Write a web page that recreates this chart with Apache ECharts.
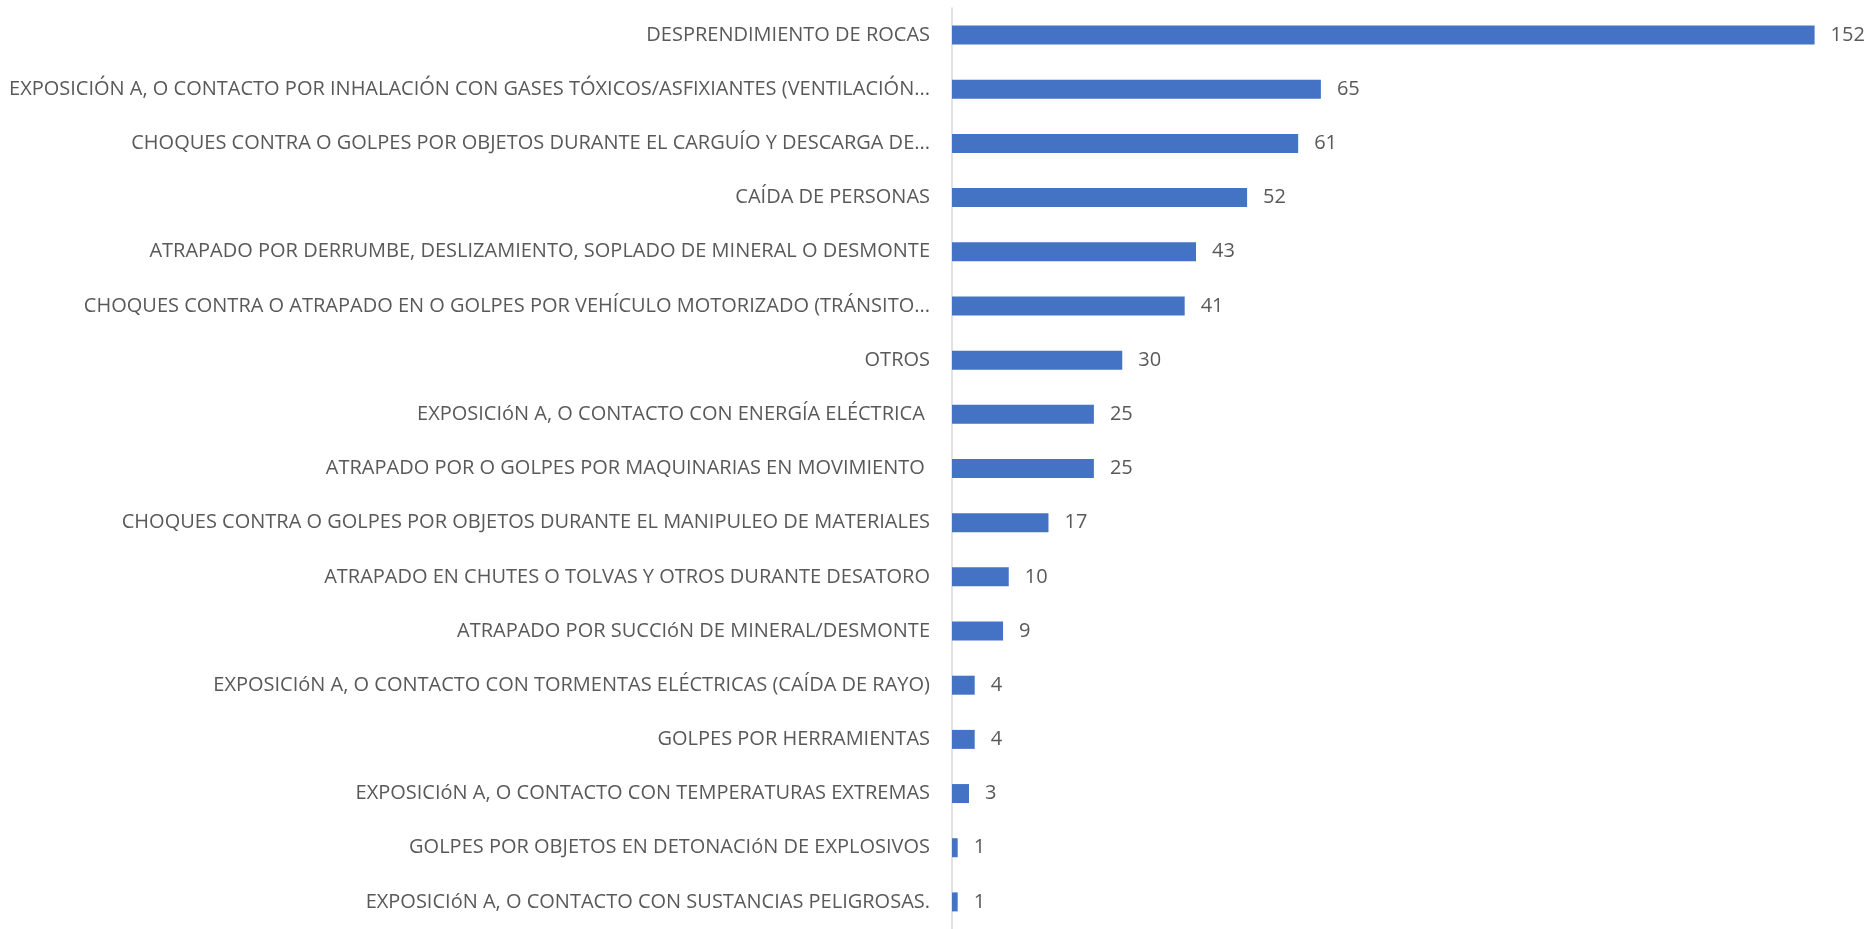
<!DOCTYPE html>
<html>
<head>
<meta charset="utf-8">
<script src="https://cdn.jsdelivr.net/npm/echarts@6/dist/echarts.min.js"></script>
<style>
  html, body { margin: 0; padding: 0; background: #fff; }
  #chart { width: 1870px; height: 929px; }
</style>
</head>
<body>
<div id="chart"></div>
<script>
// categorias (de arriba hacia abajo)
var categories = [
  'DESPRENDIMIENTO DE ROCAS',
  'EXPOSICIÓN A, O CONTACTO POR INHALACIÓN CON GASES TÓXICOS/ASFIXIANTES (VENTILACIÓN...',
  'CHOQUES CONTRA O GOLPES POR OBJETOS DURANTE EL CARGUÍO Y DESCARGA DE...',
  'CAÍDA DE PERSONAS',
  'ATRAPADO POR DERRUMBE, DESLIZAMIENTO, SOPLADO DE MINERAL O DESMONTE',
  'CHOQUES CONTRA O ATRAPADO EN O GOLPES POR VEHÍCULO MOTORIZADO (TRÁNSITO...',
  'OTROS',
  'EXPOSICIóN A, O CONTACTO CON ENERGÍA ELÉCTRICA ',
  'ATRAPADO POR O GOLPES POR MAQUINARIAS EN MOVIMIENTO ',
  'CHOQUES CONTRA O GOLPES POR OBJETOS DURANTE EL MANIPULEO DE MATERIALES',
  'ATRAPADO EN CHUTES O TOLVAS Y OTROS DURANTE DESATORO',
  'ATRAPADO POR SUCCIóN DE MINERAL/DESMONTE',
  'EXPOSICIóN A, O CONTACTO CON TORMENTAS ELÉCTRICAS (CAÍDA DE RAYO)',
  'GOLPES POR HERRAMIENTAS',
  'EXPOSICIóN A, O CONTACTO CON TEMPERATURAS EXTREMAS',
  'GOLPES POR OBJETOS EN DETONACIóN DE EXPLOSIVOS',
  'EXPOSICIóN A, O CONTACTO CON SUSTANCIAS PELIGROSAS.'
]
var values = [152, 65, 61, 52, 43, 41, 30, 25, 25, 17, 10, 9, 4, 4, 3, 1, 1]

var chart = echarts.init(document.getElementById('chart'))
chart.setOption({
  animation: false,
  backgroundColor: '#ffffff',
  textStyle: { fontFamily: '"Open Sans", sans-serif' },
  grid: {
    left: 952,
    right: 10,
    top: 8,
    bottom: -3,
    containLabel: false
  },
  xAxis: {
    type: 'value',
    min: 0,
    max: 160,
    show: false
  },
  yAxis: {
    type: 'category',
    inverse: true,
    data: categories,
    axisLine: { show: true, lineStyle: { color: '#d9d9d9', width: 1.5 } },
    axisTick: { show: false },
    axisLabel: {
      color: '#595959',
      fontSize: 20,
      margin: 22,
      fontFamily: '"Open Sans", sans-serif'
    }
  },
  series: [{
    type: 'bar',
    data: values,
    barWidth: 19,
    itemStyle: { color: '#4472c4' },
    label: {
      show: true,
      position: 'right',
      distance: 16,
      color: '#595959',
      fontSize: 20,
      fontFamily: '"Open Sans", sans-serif'
    }
  }]
})
</script>
</body>
</html>
